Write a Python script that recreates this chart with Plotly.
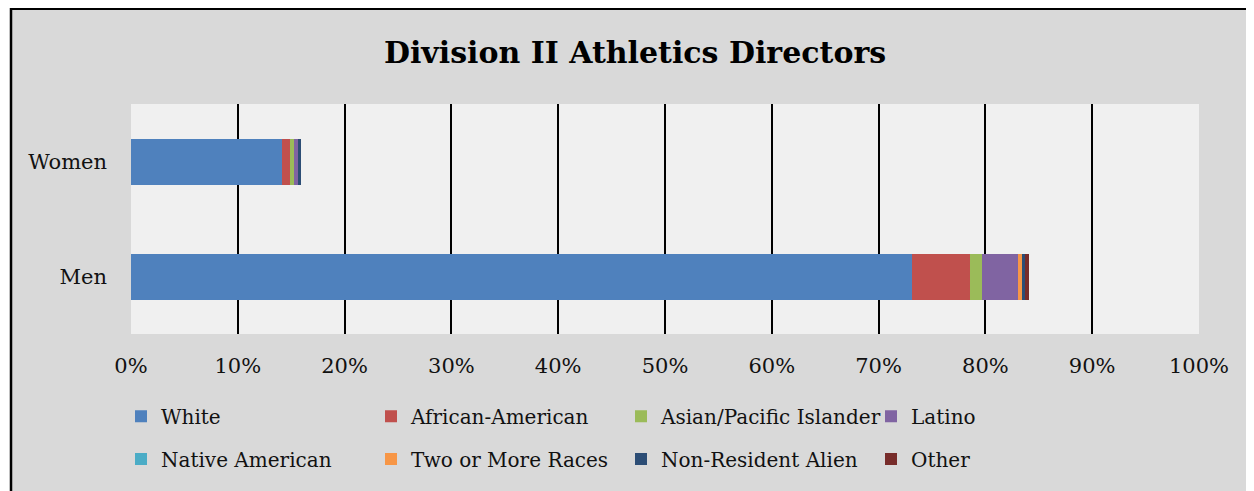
import plotly.graph_objects as go

# shares of athletics directors by race, as fractions of all directors
groups = ['Men', 'Women']
races = ['White', 'African-American', 'Asian/Pacific Islander', 'Latino',
         'Native American', 'Two or More Races', 'Non-Resident Alien', 'Other']
men = [0.7313, 0.0547, 0.0106, 0.0337, 0.0, 0.0037, 0.0028, 0.0037]
women = [0.1418, 0.0069, 0.0037, 0.0037, 0.0, 0.0, 0.0028, 0.0]
colors = ['#4F81BD', '#C0504D', '#9BBB59', '#8064A2',
          '#4BACC6', '#F79646', '#2C4D75', '#772C2A']
x_ticks = [0, 0.1, 0.2, 0.3, 0.4, 0.5, 0.6, 0.7, 0.8, 0.9, 1.0]

FONT = 'DejaVu Serif'

fig = go.Figure()
for i, race in enumerate(races):
    fig.add_trace(go.Bar(
        y=groups, x=[men[i], women[i]], name=race, orientation='h',
        marker_color=colors[i], marker_line_width=0,
        legend='legend' if i < 4 else 'legend2'))

# page body adds an 8px margin, so the figure is drawn 8px in from the window
OFF = 8
W, H = 1254 - OFF, 491 - OFF
# plot area on screen: 131..1199 wide, 104..336 tall
L, T = 131 - OFF, 104 - OFF
R, B = W - (1199 - OFF), H - (336 - OFF)
pw, ph = W - L - R, H - T - B


def px_x(v):
    # screen x -> paper fraction
    return (v - OFF - L) / pw


def px_y(v):
    # screen y -> paper fraction
    return (H - B - (v - OFF)) / ph


fig.update_xaxes(range=[0, 1], tickvals=x_ticks, tickformat='.0%',
                 showgrid=True, gridcolor='black', gridwidth=2,
                 zeroline=False, showline=False, ticks='',
                 ticklabelstandoff=17,
                 tickfont=dict(family=FONT, size=21, color='#111'))
fig.update_yaxes(type='category', categoryorder='array', categoryarray=groups,
                 showgrid=False, showline=False, ticks='', ticklabelstandoff=23,
                 tickfont=dict(family=FONT, size=21, color='#111'))

legend_style = dict(orientation='h', entrywidthmode='pixels', entrywidth=205,
                    font=dict(family=FONT, size=20, color='#111'),
                    bgcolor='rgba(0,0,0,0)', xanchor='left', yanchor='middle',
                    x=px_x(121), traceorder='normal')

fig.update_layout(
    barmode='stack', bargap=0.6,
    width=W, height=H,
    margin=dict(l=L, r=R, t=T, b=B),
    paper_bgcolor='#D9D9D9', plot_bgcolor='#F0F0F0',
    title=dict(text='<b>Division II Athletics Directors</b>',
               font=dict(family=FONT, size=30, color='black'),
               x=(635 - OFF) / W, xanchor='center',
               y=1 - (52 - OFF) / H, yanchor='middle'),
    legend=dict(legend_style, y=px_y(419)),
    legend2=dict(legend_style, y=px_y(462)),
    shapes=[
        dict(type='rect', xref='paper', yref='paper',
             x0=px_x(0), x1=px_x(10), y0=px_y(500), y1=px_y(0),
             fillcolor='white', line_width=0),
        dict(type='rect', xref='paper', yref='paper',
             x0=px_x(0), x1=px_x(1260), y0=px_y(7), y1=px_y(0),
             fillcolor='white', line_width=0),
        dict(type='rect', xref='paper', yref='paper',
             x0=px_x(11), x1=px_x(1262), y0=px_y(500), y1=px_y(8),
             line=dict(color='black', width=2.5)),
    ],
    showlegend=True,
)

fig.write_html('out.html')
